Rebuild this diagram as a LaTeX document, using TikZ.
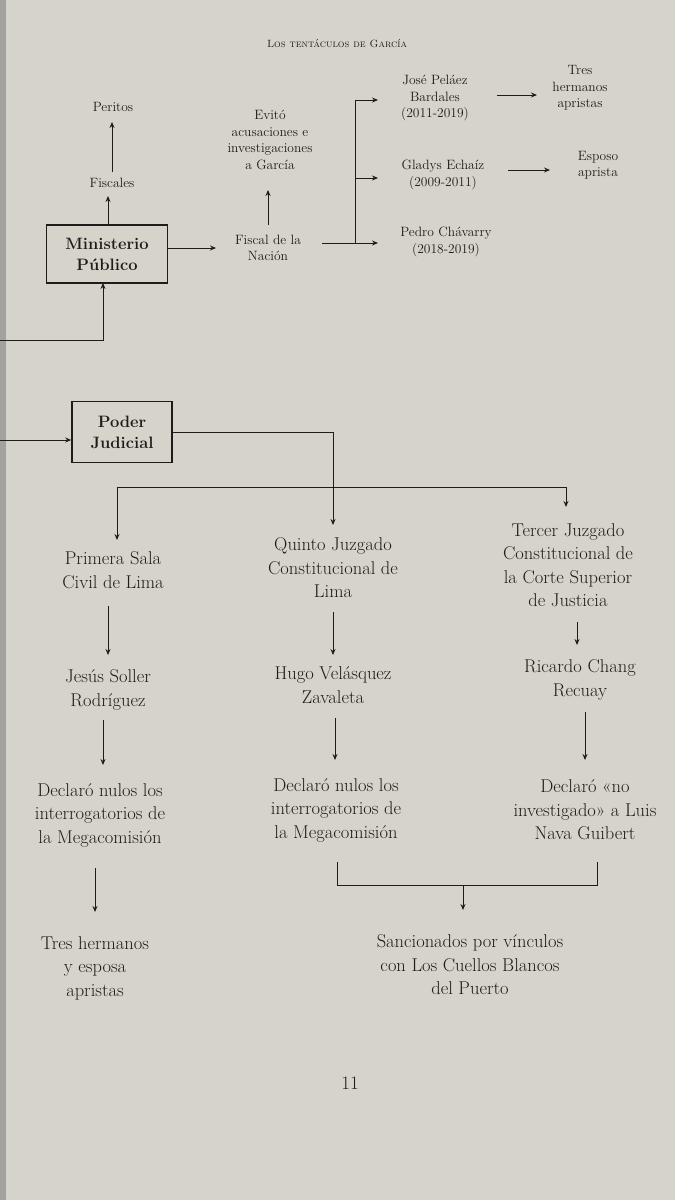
\documentclass[tikz,border=0pt]{standalone}
\usetikzlibrary{arrows.meta}
\definecolor{paper}{RGB}{214,211,203}
\definecolor{ink}{RGB}{30,28,26}
\begin{document}
\begin{tikzpicture}[x=1pt,y=-1pt,
  every node/.style={text=ink},
  s/.style={align=center,font=\fontsize{13.5}{16.5}\selectfont,inner sep=1pt},
  b/.style={align=center,font=\fontsize{18.5}{23.5}\selectfont,inner sep=1pt},
  box/.style={draw=ink,line width=1.6pt,align=center,font=\fontsize{16.5}{21}\selectfont\bfseries,inner sep=0pt},
  ar/.style={draw=ink,line width=0.9pt,-{Stealth[length=6pt,width=5pt]}},
  ln/.style={draw=ink,line width=0.9pt}]
\fill[paper] (0,0) rectangle (675,1200);
\useasboundingbox (0,0) rectangle (675,1200);
\fill[black!55,opacity=0.5] (0,0) rectangle (6,1200);
\node[font=\fontsize{10.5}{12}\selectfont\scshape] (hd) at (337,44) {Los tentáculos de García};
% top
\node[s] (per) at (113,107) {Peritos};
\node[s] (fis) at (112,183) {Fiscales};
\node[box,minimum width=121pt,minimum height=58pt] (mp) at (107,254) {Ministerio\\Público};
\node[s] (fn) at (268,248) {Fiscal de la\\Nación};
\node[s] (ev) at (270,140) {Evitó\\acusaciones e\\investigaciones\\a García};
\node[s] (jp) at (435,98) {José Peláez\\Bardales\\(2011-2019)};
\node[s] (th) at (580,88) {Tres\\hermanos\\apristas};
\node[s] (ge) at (443,175) {Gladys Echaíz\\(2009-2011)};
\node[s] (ea) at (598,165) {Esposo\\aprista};
\node[s] (pc) at (446,242) {Pedro Chávarry\\(2018-2019)};
\draw[ar] (112,172) -- (112,122);
\draw[ar] (108,225) -- (108,196);
\draw[ar] (mp.east |- 0,248) -- (216,248);
\draw[ar] (268,225) -- (268,190);
\coordinate (jn) at (355,100);
\coordinate (gn) at (355,178);
\coordinate (pn) at (355,243);
\draw[ln] (322,243) -- (pn) -- (jn);
\draw[ar] (jn) -- (378,100);
\draw[ar] (gn) -- (378,178);
\draw[ar] (pn) -- (378,243);
\draw[ar] (497,95) -- (537,95);
\draw[ar] (508,170) -- (550,170);
\coordinate (l1) at (0,340);
\draw[ar] (l1) -- (103,340) -- (103,283);
% Poder Judicial
\node[box,minimum width=100pt,minimum height=61pt] (pj) at (122,432) {Poder\\Judicial};
\coordinate (l2) at (0,440);
\draw[ar] (l2) -- (pj.west |- l2);
\node[b] (ps) at (113,570) {Primera Sala\\Civil de Lima};
\node[b] (qj) at (333,568) {Quinto Juzgado\\Constitucional de\\Lima};
\node[b] (tj) at (568,565) {Tercer Juzgado\\Constitucional de\\la Corte Superior\\de Justicia};
\draw[ar] (pj.east |- 0,432) -- (333,432) -- (333,525);
\draw[ln] (117,487) -- (566,487);
\draw[ar] (117,487) -- (117,540);
\draw[ar] (566,487) -- (566,507);
\node[b] (js) at (108,690) {Jesús Soller\\Rodríguez};
\node[b] (hv) at (333,685) {Hugo Velásquez\\Zavaleta};
\node[b] (rc) at (580,680) {Ricardo Chang\\Recuay};
\draw[ar] (108,606) -- (108,655);
\draw[ar] (333,612) -- (333,655);
\draw[ar] (577,622) -- (577,645);
\node[b] (d1) at (100,815) {Declaró nulos los\\interrogatorios de\\la Megacomisión};
\node[b] (d2) at (336,810) {Declaró nulos los\\interrogatorios de\\la Megacomisión};
\node[b] (d3) at (585,810) {Declaró «no\\investigado» a Luis\\Nava Guibert};
\draw[ar] (103,720) -- (103,765);
\draw[ar] (335,718) -- (335,760);
\draw[ar] (585,712) -- (585,760);
\node[b] (th2) at (95,968) {Tres hermanos\\y esposa\\apristas};
\draw[ar] (95,868) -- (95,912);
\node[b] (sv) at (470,965) {Sancionados por vínculos\\con Los Cuellos Blancos\\del Puerto};
\draw[ln] (337,862) -- (337,885) -- (597,885) -- (597,862);
\draw[ar] (463,885) -- (463,910);
\node[font=\fontsize{19}{22}\selectfont] (pg) at (350,1083) {11};
\end{tikzpicture}
\end{document}
